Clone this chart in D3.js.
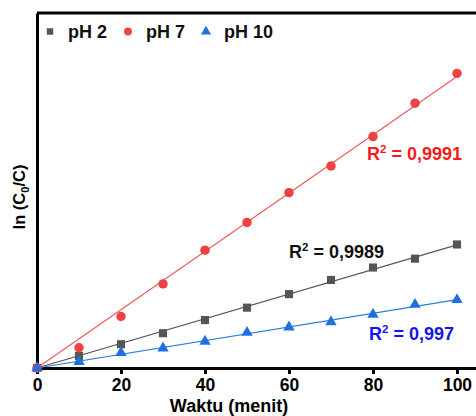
<!DOCTYPE html>
<html>
<head>
<meta charset="utf-8">
<script src="https://cdn.jsdelivr.net/npm/d3@7"></script>
<style>
	body { margin: 0; background: #fff; }
	text { font-family: "Liberation Sans", Arial, sans-serif; font-weight: bold; }
</style>
</head>
<body>
<script>
// waktu (menit)
const times = [0, 10, 20, 30, 40, 50, 60, 70, 80, 90, 100];
// ln(C0/C) (no y ticks in original, relative units)
const ph2 = [0, 0.034, 0.067, 0.098, 0.135, 0.170, 0.208, 0.248, 0.283, 0.308, 0.348];
const ph7 = [0, 0.057, 0.145, 0.237, 0.332, 0.410, 0.494, 0.569, 0.652, 0.746, 0.830];
const ph10 = [0, 0.018, 0.043, 0.056, 0.075, 0.100, 0.115, 0.130, 0.151, 0.179, 0.192];
const seriesNames = ['pH 2', 'pH 7', 'pH 10'];
const r2Labels = ['0,9989', '0,9991', '0,997'];
const xTicks = [0, 20, 40, 60, 80, 100];

const width = 476, height = 416;
const margin = { top: 13, left: 37, bottom: 48 };

const svg = d3.select('body')
	.append('svg')
	.attr('width', width)
	.attr('height', height);

const xScale = d3.scaleLinear()
	.domain([0, 105])
	.range([margin.left, 478]);

const yScale = d3.scaleLinear()
	.domain([0, 1])
	.range([height - margin.bottom, margin.top]);

const series = [
	{ name: seriesNames[0], values: ph2, color: '#555555', line: '#555555', symbol: d3.symbolSquare, size: 66, legSize: 42, r2: r2Labels[0], r2Color: '#111111', lx: 289, ly: 258 },
	{ name: seriesNames[1], values: ph7, color: '#ef4141', line: '#f05a5a', symbol: d3.symbolCircle, size: 70, legSize: 48, r2: r2Labels[1], r2Color: '#f51c1c', lx: 367, ly: 160 },
	{ name: seriesNames[2], values: ph10, color: '#1f6fe0', line: '#2a7ad8', symbol: d3.symbolTriangle, size: 56, legSize: 44, r2: r2Labels[2], r2Color: '#1414f0', lx: 369, ly: 340 }
];

// frame
svg.append('line')
	.attr('x1', margin.left).attr('x2', width + 5)
	.attr('y1', margin.top).attr('y2', margin.top)
	.attr('stroke', '#000').attr('stroke-width', 3);

const xAxis = d3.axisBottom(xScale)
	.tickValues(xTicks)
	.tickSize(6)
	.tickSizeOuter(0)
	.tickPadding(5);

const gx = svg.append('g')
	.attr('transform', `translate(0, ${yScale(0)})`)
	.call(xAxis);
gx.select('.domain').attr('stroke-width', 3);
gx.selectAll('.tick line').attr('stroke-width', 3);
gx.selectAll('.tick text')
	.attr('font-size', 17.5)
	.attr('font-family', '"Liberation Sans", Arial, sans-serif')
	.attr('font-weight', 'bold')
	.attr('fill', '#000');

const gy = svg.append('g')
	.attr('transform', `translate(${margin.left}, 0)`)
	.call(d3.axisLeft(yScale).tickValues([]).tickSizeOuter(0));
gy.select('.domain').attr('stroke-width', 3);

svg.append('text')
	.attr('x', 229)
	.attr('y', 412)
	.attr('text-anchor', 'middle')
	.attr('font-size', 18)
	.text('Waktu (menit)');

const yl = svg.append('text')
	.attr('transform', 'translate(25, 197) rotate(-90)')
	.attr('text-anchor', 'middle')
	.attr('font-size', 16.5);
yl.append('tspan').text('ln (C');
yl.append('tspan').attr('font-size', 11).attr('dy', 4).text('0');
yl.append('tspan').attr('dy', -4).text('/C)');

// fits through origin
series.forEach(s => {
	const sxy = d3.sum(times, (t, i) => t * s.values[i]);
	const sxx = d3.sum(times, t => t * t);
	const k = sxy / sxx;
	svg.append('line')
		.attr('x1', xScale(0)).attr('y1', yScale(0))
		.attr('x2', xScale(100)).attr('y2', yScale(k * 100))
		.attr('stroke', s.line)
		.attr('stroke-width', 1.2);
});

series.forEach(s => {
	svg.append('g').selectAll('path')
		.data(times.map((t, i) => [t, s.values[i]]))
		.enter().append('path')
		.attr('transform', d => `translate(${xScale(d[0])}, ${yScale(d[1])})`)
		.attr('d', d3.symbol().type(s.symbol).size(s.size))
		.attr('fill', s.color);

	const t = svg.append('text')
		.attr('x', s.lx)
		.attr('y', s.ly)
		.attr('font-size', 18)
		.attr('fill', s.r2Color);
	t.append('tspan').text('R');
	t.append('tspan').attr('font-size', 11.5).attr('dy', -7).text('2');
	t.append('tspan').attr('dy', 7).text(' = ' + s.r2);
});

// legend
const legendX = [50, 128, 206];
const legend = svg.append('g');
series.forEach((s, i) => {
	legend.append('path')
		.attr('transform', `translate(${legendX[i]}, 31.5)`)
		.attr('d', d3.symbol().type(s.symbol).size(s.legSize))
		.attr('fill', s.color);
	legend.append('text')
		.attr('x', legendX[i] + 18)
		.attr('y', 38)
		.attr('font-size', 18)
		.attr('fill', '#111')
		.text(s.name);
});
</script>
</body>
</html>
